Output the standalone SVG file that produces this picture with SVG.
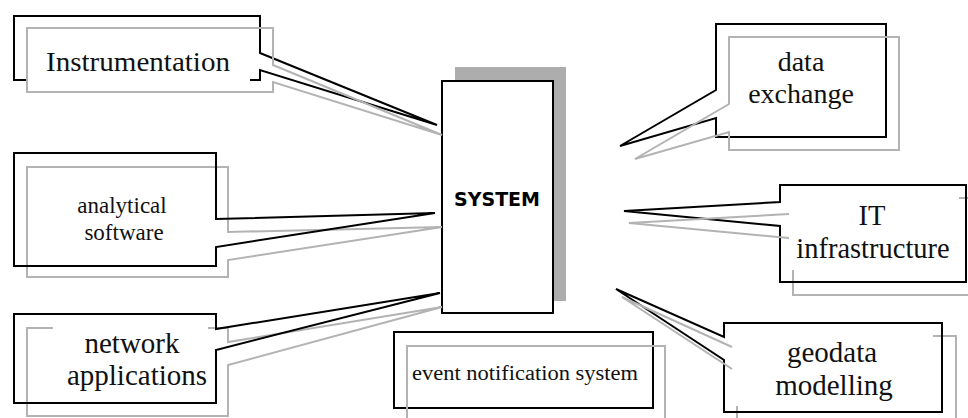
<svg xmlns="http://www.w3.org/2000/svg" width="968" height="418" viewBox="0 0 968 418">
  <style>
    .blk { fill: none; stroke: #000; stroke-width: 2; stroke-linejoin: miter; }
    .gry { fill: none; stroke: #b3b3b3; stroke-width: 2; stroke-linejoin: miter; }
    .cover { fill: #fff; stroke: none; }
    .lbl { font-family: "Liberation Serif", "Times New Roman", serif; fill: #111; text-anchor: middle; }
    .sys { font-family: "DejaVu Sans", Verdana, sans-serif; font-weight: bold; font-size: 19px; fill: #000; text-anchor: middle; }
  </style>
  <rect width="968" height="418" fill="#fff"/>

  <!-- central system box with its offset shadow -->
  <g id="system">
    <rect x="455" y="67" width="111" height="234" fill="#adadad"/>
    <rect x="442" y="81" width="111" height="232" fill="#fff" stroke="#000" stroke-width="2"/>
    <text class="sys" x="497" y="206">SYSTEM</text>
  </g>

  <!-- callouts on the left -->
  <g id="instrumentation">
    <path class="blk" d="M260,53 V16 H14 V80 H260 V70 L437,125 Z"/>
    <rect class="cover" x="28" y="30" width="222" height="58"/>
    <path class="gry" d="M273,65 V28 H27 V92 H273 V82 L442,135 Z"/>
    <text class="lbl" x="138" y="71" font-size="27" textLength="184" lengthAdjust="spacingAndGlyphs">Instrumentation</text>
  </g>

  <g id="analytical-software">
    <path class="gry" d="M228,232 V167 H27 V277 H228 V260 L442,227 Z"/>
    <path class="blk" d="M216,219 V153 H14 V266 H216 V247 L435,213 Z"/>
    <text class="lbl" x="122" y="213" font-size="23">analytical</text>
    <text class="lbl" x="124" y="240" font-size="23">software</text>
  </g>

  <g id="network-applications">
    <path class="gry" d="M228,342 V328 H27 V416 H228 V365 L442,307 Z"/>
    <rect class="cover" x="53" y="322" width="155" height="12"/>
    <path class="blk" d="M216,329 V314 H14 V403 H216 V350 L440,293 Z"/>
    <text class="lbl" x="132" y="353" font-size="29">network</text>
    <text class="lbl" x="137" y="385" font-size="29">applications</text>
  </g>

  <!-- plain box below the system -->
  <g id="event-notification">
    <rect class="blk" x="394" y="332" width="259" height="76"/>
    <rect class="gry" x="407" y="346" width="258" height="84"/>
    <text class="lbl" x="525" y="380" font-size="20" textLength="226" lengthAdjust="spacingAndGlyphs">event notification system</text>
  </g>

  <!-- callouts on the right -->
  <g id="data-exchange">
    <path class="blk" d="M716,90 V24 H886 V137 H716 V118 L620,146 Z"/>
    <path class="gry" d="M729,104 V37 H899 V150 H729 V132 L635,159 Z"/>
    <text class="lbl" x="801" y="71" font-size="28">data</text>
    <text class="lbl" x="801" y="103" font-size="28">exchange</text>
  </g>

  <g id="it-infrastructure">
    <rect class="gry" x="793" y="198" width="190" height="97"/>
    <rect class="cover" x="781" y="187" width="178" height="83"/>
    <path class="blk" d="M780,202 V185 H966 V282 H780 V226 L624,211 Z"/>
    <polyline class="gry" points="789,214 629,223 789,238"/>
    <text class="lbl" x="872" y="225" font-size="28.5">IT</text>
    <text class="lbl" x="873" y="258" font-size="28.5">infrastructure</text>
  </g>

  <g id="geodata-modelling">
    <rect class="gry" x="737" y="336" width="219" height="95"/>
    <rect class="cover" x="726" y="325" width="207" height="81"/>
    <path class="blk" d="M724,337 V323 H942 V412 H724 V360 L616,289 Z"/>
    <polyline class="gry" points="732,347 622,297 732,369"/>
    <text class="lbl" x="832" y="362" font-size="29">geodata</text>
    <text class="lbl" x="834" y="395" font-size="29">modelling</text>
  </g>
</svg>
